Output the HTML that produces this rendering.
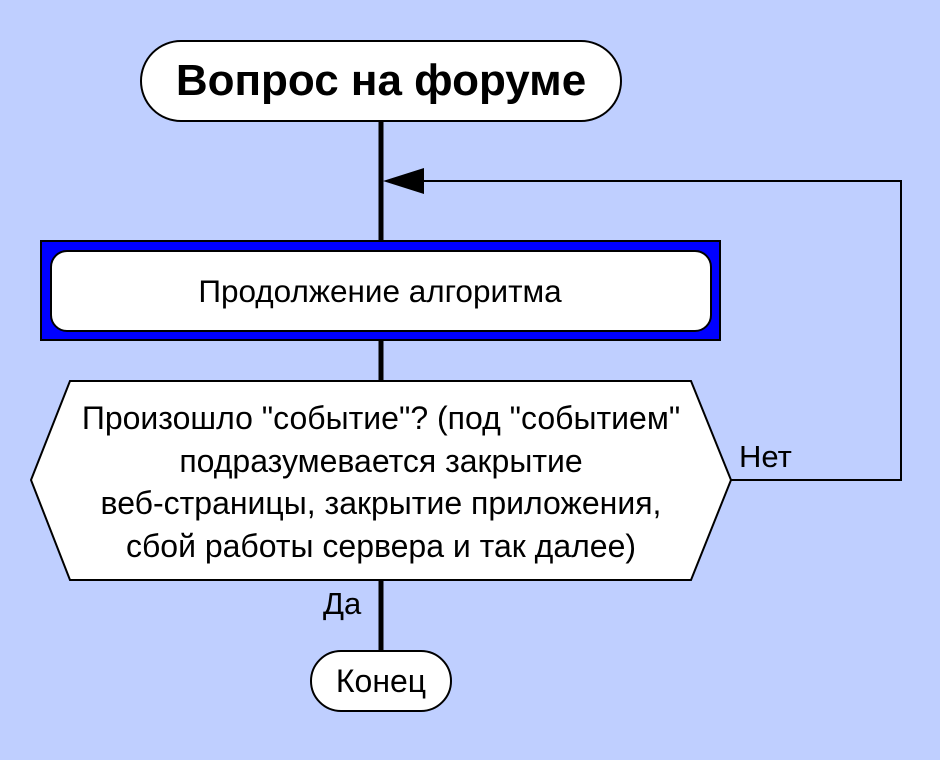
<!DOCTYPE html>
<html><head><meta charset="utf-8"><style>
html,body{margin:0;padding:0;background:#bfcfff;}
svg{display:block;font-family:"Liberation Sans",sans-serif;}
</style></head><body>
<svg width="940" height="760" viewBox="0 0 940 760" xmlns="http://www.w3.org/2000/svg">
<rect width="940" height="760" fill="#bfcfff"/>
<line x1="381" y1="121" x2="381" y2="651" stroke="#000" stroke-width="5"/>
<polyline points="424,181 901,181 901,480 731,480" fill="none" stroke="#000" stroke-width="2"/>
<polygon points="383,181 424,168 424,194" fill="#000"/>
<rect x="141" y="41" width="480" height="80" rx="40" fill="#fff" stroke="#000" stroke-width="2"/>
<text x="381" y="95" text-anchor="middle" font-size="44" font-weight="bold">Вопрос на форуме</text>
<rect x="41" y="241" width="679" height="99" fill="#0000ff" stroke="#000" stroke-width="2"/>
<rect x="51" y="251" width="660" height="80" rx="16" fill="#fff" stroke="#000" stroke-width="2"/>
<text x="380" y="302" text-anchor="middle" font-size="31.5">Продолжение алгоритма</text>
<polygon points="70,381 691,381 731,480 691,580 70,580 31,480" fill="#fff" stroke="#000" stroke-width="2"/>
<g font-size="32" text-anchor="middle">
<text x="381" y="429">Произошло "событие"? (под "событием"</text>
<text x="381" y="472">подразумевается закрытие</text>
<text x="381" y="514">веб-страницы, закрытие приложения,</text>
<text x="381" y="557">сбой работы сервера и так далее)</text>
</g>
<text x="739" y="467" font-size="31">Нет</text>
<text x="323" y="614" font-size="31">Да</text>
<rect x="311" y="651" width="140" height="60" rx="30" fill="#fff" stroke="#000" stroke-width="2"/>
<text x="381" y="692" text-anchor="middle" font-size="32">Конец</text>
</svg>
</body></html>
